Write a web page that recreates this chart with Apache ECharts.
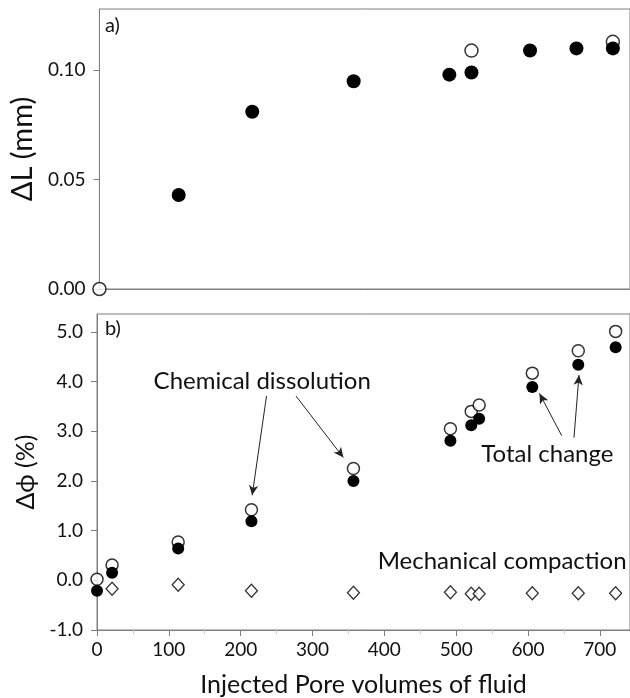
<!DOCTYPE html>
<html>
<head>
<meta charset="utf-8">
<script src="https://cdn.jsdelivr.net/npm/echarts@6/dist/echarts.min.js"></script>
<style>
  html, body { margin: 0; padding: 0; background: #fff; }
</style>
</head>
<body>
<div id="pore-charts" style="width: 630px; height: 698px;"></div>

<script type="application/javascript">
// a) length change
var lenX = [111, 214, 356, 490, 521, 603, 668, 719];
var lenFilled = [0.043, 0.081, 0.095, 0.098, 0.099, 0.109, 0.110, 0.110];
var lenOpenX = [0, 521, 719];
var lenOpen = [0.000, 0.109, 0.113];
var lenTicks = [0, 0.05, 0.10];

// b) porosity change
var poreX = [0, 21, 113, 215, 357, 492, 521, 532, 606, 670, 722];
var totalChange = [0.02, 0.31, 0.77, 1.42, 2.25, 3.05, 3.40, 3.53, 4.17, 4.62, 5.01];
var chemDissolution = [-0.21, 0.15, 0.64, 1.19, 2.00, 2.81, 3.12, 3.25, 3.89, 4.34, 4.69];
var mechCompaction = [null, -0.17, -0.09, -0.21, -0.25, -0.24, -0.27, -0.27, -0.26, -0.26, -0.26];
var poreTicks = [-1, 0, 1, 2, 3, 4, 5];
var xTicks = [0, 100, 200, 300, 400, 500, 600, 700];

function pairs(xs, ys) {
  var out = [];
  for (var i = 0; i < xs.length; i++) {
    if (ys[i] !== null) out.push([xs[i], ys[i]]);
  }
  return out;
}

var FONT = 'Lato';
var TXT = '#111';
var AX = '#7f7f7f';

var chartDom = document.getElementById('pore-charts');
var myChart = echarts.init(chartDom);
var option;

option = {
  animation: false,
  textStyle: { fontFamily: FONT },
  grid: [
    { left: 96, top: 9, width: 534, height: 280, show: true, borderColor: AX, borderWidth: 1 },
    { left: 97, top: 314, width: 533, height: 318, show: true, borderColor: AX, borderWidth: 1 }
  ],
  xAxis: [
    {
      gridIndex: 0, type: 'value', min: 0, max: 743,
      axisLine: { show: true, onZero: false, lineStyle: { color: AX } },
      axisTick: { show: false }, axisLabel: { show: false }, splitLine: { show: false }
    },
    {
      gridIndex: 1, type: 'value', min: 0, max: 742, interval: 100,
      name: 'Injected Pore volumes of fluid', nameLocation: 'middle', nameGap: 42,
      nameTextStyle: { fontFamily: FONT, fontSize: 25, color: TXT },
      axisLine: { show: true, onZero: false, lineStyle: { color: AX } },
      axisTick: { show: true, length: 6, customValues: xTicks, lineStyle: { color: AX } },
      minorTick: { show: true, splitNumber: 2, length: 4, lineStyle: { color: '#c8c8c8' } },
      axisLabel: { customValues: xTicks, margin: 10, fontFamily: FONT, fontSize: 19, color: TXT },
      splitLine: { show: false }
    }
  ],
  yAxis: [
    {
      gridIndex: 0, type: 'value', min: 0, max: 0.128,
      name: '\u0394L (mm)', nameLocation: 'middle', nameGap: 58,
      nameTextStyle: { fontFamily: FONT, fontSize: 29, color: TXT },
      axisLine: { show: true, onZero: false, lineStyle: { color: AX } },
      axisTick: { show: true, length: 6, customValues: lenTicks, lineStyle: { color: AX } },
      axisLabel: {
        customValues: lenTicks, margin: 14, fontFamily: FONT, fontSize: 19, color: TXT,
        formatter: function (v) { return v.toFixed(2); }
      },
      splitLine: { show: false }
    },
    {
      gridIndex: 1, type: 'value', min: -1, max: 5.36,
      name: '\u0394\u03d5 (%)', nameLocation: 'middle', nameGap: 58,
      nameTextStyle: { fontFamily: FONT, fontSize: 25, color: TXT },
      axisLine: { show: true, onZero: false, lineStyle: { color: AX } },
      axisTick: { show: true, length: 6, customValues: poreTicks, lineStyle: { color: AX } },
      axisLabel: {
        customValues: poreTicks, margin: 14, fontFamily: FONT, fontSize: 19, color: TXT,
        formatter: function (v) { return v.toFixed(1); }
      },
      splitLine: { show: false }
    }
  ],
  series: [
    {
      name: 'Length open', type: 'scatter', xAxisIndex: 0, yAxisIndex: 0,
      symbol: 'circle', symbolSize: 13,
      itemStyle: { color: '#fff', borderColor: '#000', borderWidth: 1.5 },
      data: pairs(lenOpenX, lenOpen)
    },
    {
      name: 'Length', type: 'scatter', xAxisIndex: 0, yAxisIndex: 0,
      symbol: 'circle', symbolSize: 14,
      itemStyle: { color: '#000', opacity: 1 },
      data: pairs(lenX, lenFilled)
    },
    {
      name: 'Total change', type: 'scatter', xAxisIndex: 1, yAxisIndex: 1,
      symbol: 'circle', symbolSize: 12,
      itemStyle: { color: '#fff', borderColor: '#000', borderWidth: 1.5 },
      data: pairs(poreX, totalChange)
    },
    {
      name: 'Chemical dissolution', type: 'scatter', xAxisIndex: 1, yAxisIndex: 1,
      symbol: 'circle', symbolSize: 12,
      itemStyle: { color: '#000', opacity: 1 },
      data: pairs(poreX, chemDissolution),
      markLine: {
        silent: true,
        symbol: ['none', 'arrow'],
        symbolSize: [7, 10],
        label: { show: false },
        lineStyle: { color: '#222', width: 1, type: 'solid' },
        data: [
          [{ coord: [236, 3.71] }, { coord: [216, 1.71] }],
          [{ coord: [277, 3.71] }, { coord: [343, 2.47] }],
          [{ coord: [647, 2.91] }, { coord: [616, 3.76] }],
          [{ coord: [664, 2.87] }, { coord: [671, 4.13] }]
        ]
      }
    },
    {
      name: 'Mechanical compaction', type: 'scatter', xAxisIndex: 1, yAxisIndex: 1,
      symbol: 'diamond', symbolSize: [12, 13],
      itemStyle: { color: '#fff', borderColor: '#000', borderWidth: 1.3 },
      data: pairs(poreX, mechCompaction)
    }
  ]
};

option && myChart.setOption(option);

// panel labels and annotation texts, placed in data coordinates
function textAt(grid, x, y, str, size, align) {
  var p = myChart.convertToPixel({ xAxisIndex: grid, yAxisIndex: grid }, [x, y]);
  return {
    type: 'text', x: p[0], y: p[1], silent: true,
    style: { text: str, fill: TXT, font: size + 'px ' + FONT, align: align || 'center', verticalAlign: 'middle' }
  };
}

myChart.setOption({
  graphic: [
    { type: 'text', left: 105, top: 16, style: { text: 'a)', fill: TXT, font: '20px ' + FONT } },
    { type: 'text', left: 105, top: 319, style: { text: 'b)', fill: TXT, font: '20px ' + FONT } },
    textAt(1, 230, 4.0, 'Chemical dissolution', 24),
    textAt(1, 627, 2.54, 'Total change', 24),
    textAt(1, 564, 0.38, 'Mechanical compaction', 24)
  ]
});
</script>
</body>
</html>
